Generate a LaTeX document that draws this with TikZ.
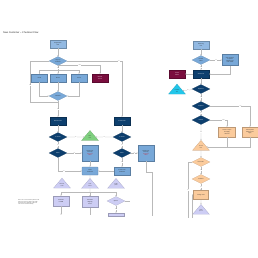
\documentclass[tikz,border=0pt]{standalone}
\usepackage{fontspec}
\setmainfont{Liberation Sans}
\usetikzlibrary{positioning,shapes.geometric,arrows.meta}

\definecolor{paleblue}{HTML}{92B9E2}
\definecolor{stepblue}{HTML}{78A8D8}
\definecolor{navy}{HTML}{0D3F6E}
\definecolor{wine}{HTML}{7A0E3E}
\definecolor{peach}{HTML}{FBCB9C}
\definecolor{lilac}{HTML}{CDCDF4}
\definecolor{mint}{HTML}{7FD07F}
\definecolor{aqua}{HTML}{22C6EA}
\definecolor{alertred}{HTML}{D0202E}

\begin{document}
\begin{tikzpicture}[
  x=1mm, y=-1mm,
  every node/.style={font=\fontsize{3.8}{4.4}\selectfont, text=black!85},
  box/.style={draw=#1!75!black, fill=#1, rectangle, minimum width=16mm, minimum height=8mm, align=center, inner sep=0.5pt},
  dec/.style={draw=#1!75!black, fill=#1, diamond, aspect=2, minimum width=18mm, minimum height=9mm, align=center, inner sep=0pt},
  tri/.style={draw=#1!75!black, fill=#1, isosceles triangle, shape border rotate=90, isosceles triangle stretches, minimum width=17mm, minimum height=10mm, align=center, inner sep=0pt, font=\fontsize{3.2}{3.7}\selectfont},
  lbl/.style={fill=white, inner sep=0.4pt, font=\fontsize{3}{3.3}\selectfont, text=black!60},
  line/.style={draw=gray!55, line width=0.7pt},
  >={Stealth[length=1.3mm,width=1.1mm]}
]
\useasboundingbox (0,0) rectangle (258,258);

% Title
\node[anchor=west, font=\fontsize{7}{8}\selectfont] (title) at (2,33) {New Customer -- Checkout Flow};

% Left flow: new account
\node[box=paleblue] (reg) at (58,44) {Registration\\form};
\node[dec=stepblue] (route) at (58,61) {Sign-up\\method?};
\node[box=stepblue] (email) at (39.5,78) {Email};
\node[box=stepblue] (phone) at (58,78) {Phone};
\node[box=stepblue] (social) at (79,78) {Social};
\node[box=wine, text=white] (manual) at (100,78) {Manual\\check};
\node[dec=stepblue] (verified) at (58,96) {Verified?};
\node[box=navy, text=white] (acct) at (58,121) {New account};
\node[box=navy, text=white] (guest) at (122,121) {Guest order};

% Stock and payment checks
\node[dec=navy, text=white] (stockA) at (58,137) {In stock?};
\node[dec=navy, text=white] (stockB) at (122,137) {In stock?};
\node[tri=mint] (backorder) at (90,137) {Back-\\order};
\node[dec=navy, text=white] (payA) at (58,153) {Paid?};
\node[dec=navy, text=white] (payB) at (122,153) {Paid?};
\node[box=stepblue, minimum height=16mm] (retryA) at (90,153) {Show error\\and retry\\\textcolor{alertred}{Payment}\\\textcolor{alertred}{failed}};
\node[box=stepblue, minimum height=16mm] (retryB) at (146,153) {Show error\\and retry\\\textcolor{alertred}{Payment}\\\textcolor{alertred}{failed}};
\node[box=stepblue, rounded corners=1pt] (confA) at (90,171) {Order\\confirmed};
\node[box=stepblue] (confB) at (122,171) {Guest order\\confirmed};

% After confirmation
\node[tri=lilac] (mailtri) at (62,185) {Welcome\\email};
\node[tri=lilac] (invtri) at (90,185) {Send\\invoice};
\node[tri=lilac] (looptri) at (116,185) {Loyalty\\points};
\node[box=lilac, minimum height=10mm] (crm) at (61,201) {Customer\\in CRM};
\node[box=lilac, minimum height=11mm] (ship) at (90,202) {Schedule\\shipping\\notice};
\node[dec=lilac] (optin) at (116,201) {Opt-in?};
\node[box=lilac, minimum height=2.5mm, anchor=north] (promo) at (116,213) {};
\node[anchor=west, align=left, font=\fontsize{3.3}{3.9}\selectfont] (note) at (17,202.5) {Note: once a new customer places a first\\order, the account is kept in the CRM\\and a welcome email with a discount\\code is sent out automatically.};

\coordinate (fork) at (58,70);
\coordinate (other) at (58,65.5);
\coordinate (loopL) at (30,102);
\coordinate (joinL) at (58,102);
\coordinate (jogB) at (152,172);
\coordinate (offB) at (152,216);
\coordinate (barL) at (61,192);
\coordinate (barM) at (90,192);
\coordinate (barR) at (116,192);
\coordinate (offA) at (61,215);
\coordinate (offM) at (90,215);
\coordinate (offC) at (130,201);

\draw[line,->] (reg) -- (route);
\draw[line] (route) -- (fork) node[lbl, pos=0.6] {Yes};
\draw[line,->] (fork) -| (email);
\draw[line,->] (fork) -- (phone);
\draw[line,->] (fork) -| (social);
\draw[line,->] (other) -| (manual) node[lbl, pos=0.26] {Other};
\draw[line] (route) -| (loopL) node[lbl, pos=0.8] {No};
\draw[line] (loopL) -- (joinL);
\draw[line,->] (route) -| (guest) node[lbl, pos=0.47] {Yes};
\draw[line,->] (email) |- (verified);
\draw[line,->] (phone) -- (verified);
\draw[line,->] (social) |- (verified);
\draw[line,->] (verified) -- (acct) node[lbl, pos=0.53] {Yes};
\draw[line,->] (acct) -- (stockA);
\draw[line,->] (guest) -- (stockB);
\draw[line,->] (stockA) -- (backorder) node[lbl, midway] {No};
\draw[line,->] (stockB) -- (backorder) node[lbl, midway] {No};
\draw[line,->] (stockA) -- (payA) node[lbl, midway] {Yes};
\draw[line,->] (stockB) -- (payB) node[lbl, midway] {Yes};
\draw[line,->] (payA) -- (retryA) node[lbl, midway] {No};
\draw[line,->] (payB) -- (retryB) node[lbl, midway] {No};
\draw[line,->] (payA) |- (confA) node[lbl, pos=0.62] {Yes};
\draw[line,->] (payB) -- (confB) node[lbl, midway] {Yes};
\draw[line,->] (retryA) -- (confA);
\draw[line,->] (confB) -- (confA);
\draw[line] (retryB) |- (jogB) -- (offB);
\draw[line] (confA) -- (invtri);
\draw[line] (invtri) -- (barM);
\draw[line] (barL) -- (barR);
\draw[line,->] (barL) -- (crm);
\draw[line,->] (barM) -- (ship);
\draw[line,->] (barR) -- (optin);
\draw[line,->] (crm) -- (offA);
\draw[line] (ship) -- (offM);
\draw[line] (optin) -- (offC);
\draw[line,->] (optin) -- (promo) node[lbl, midway] {Yes};

% Right flow: returning customer
\node[box=paleblue] (ret) at (201,45) {Returning\\user};
\node[dec=stepblue] (saved) at (201,60) {Details\\valid?};
\node[box=stepblue, minimum height=11mm] (ask) at (230,60) {Ask customer\\to update\\address and\\card details};
\node[box=navy, text=white] (load) at (201,74) {Saved cart};
\node[box=wine, text=white] (fraud) at (177,74) {Fraud\\review};
\node[dec=navy, text=white] (express) at (201,89) {Express?};
\node[tri=aqua] (std) at (177,91) {Standard\\flow};
\node[dec=navy, text=white] (coupon) at (201,106) {Coupon?};
\node[dec=navy, text=white] (points) at (201,120) {Points?};
\node[box=peach, minimum width=17mm, minimum height=10mm] (chkc) at (227,132) {Check coupon\\and apply\\discount};
\node[box=peach, minimum height=10mm] (chkp) at (250,132) {Check points\\balance and\\apply};
\node[tri=peach] (review) at (201,147) {Review\\order};
\node[dec=peach] (price) at (201,162) {Price OK?};
\node[dec=peach] (place) at (201,179) {Confirm?};
\node[box=peach, minimum width=15mm, minimum height=9mm] (charge) at (201,195) {Charge card};
\node[tri=lilac] (placed) at (201,211) {Order\\placed};

\coordinate (offD) at (188,218);
\coordinate (offE) at (192,218);

\draw[line,->] (ret) -- (saved);
\draw[line,->] (saved) -- (ask) node[lbl, midway] {Yes};
\draw[line,->] (saved) -- (load) node[lbl, midway] {No};
\draw[line,->] (ask) |- (load);
\draw[line,->] (load) -- (fraud);
\draw[line,->] (load) -- (express);
\draw[line,->] (express) -- (std) node[lbl, midway] {No};
\draw[line,->] (express) -- (coupon) node[lbl, midway] {Yes};
\draw[line,->] (coupon) -| (chkp) node[lbl, pos=0.38] {Yes};
\draw[line,->] (coupon) -- (points) node[lbl, midway] {No};
\draw[line,->] (points) -| (chkc) node[lbl, pos=0.4] {Other};
\draw[line,->] (points) -- (review) node[lbl, midway] {Yes};
\draw[line,->] (chkc) |- (review);
\draw[line] (chkp) |- (chkc |- review);
\draw[line,->] (review) -- (price);
\draw[line,->] (price) -- (place) node[lbl, midway] {Yes};
\draw[line,->] (place) -- (charge) node[lbl, midway] {Yes};
\draw[line,->] (charge) -- (placed);
\draw[line] (price) -| (offD) node[lbl, pos=0.75] {No};
\draw[line,->] (offE) |- (charge);
\end{tikzpicture}
\end{document}
